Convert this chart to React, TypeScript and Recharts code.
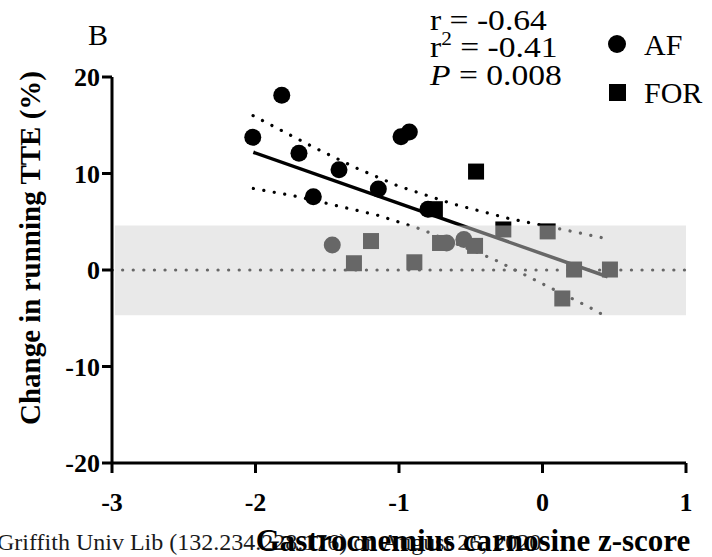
import { ScatterChart, Scatter, XAxis, YAxis, ReferenceArea, ReferenceLine, Legend } from "recharts";

// AF group (circles)
const afX = [-2.019, -1.817, -1.697, -1.597, -1.418, -1.144, -0.986, -0.928, -0.798, -1.465, -0.668, -0.548];
const afY = [13.75, 18.1, 12.1, 7.6, 10.4, 8.4, 13.8, 14.3, 6.3, 2.6, 2.8, 3.15];

// FOR group (squares)
const forX = [-0.75, -0.463, -0.273, 0.036, -1.195, -1.314, -0.893, -0.714, -0.47, 0.22, 0.47, 0.138];
const forY = [6.3, 10.2, 4.2, 4.0, 3.0, 0.7, 0.8, 2.8, 2.5, 0.05, 0.05, -2.95];

// regression line and 95% CI
const fitX = [-2.015, 0.454];
const fitY = [12.2, -0.7];
const upperX = [-2.017, -1.876, -1.592, -1.302, -1.005, -0.626, -0.238, 0.157, 0.463];
const upperY = [16.0, 14.9, 12.7, 10.6, 8.7, 6.85, 5.35, 4.15, 3.2];
const lowerX = [-2.015, -1.702, -1.458, -1.155, -0.923, -0.842, -0.331, -0.11, 0.029, 0.319, 0.459];
const lowerY = [8.45, 7.6, 6.75, 5.7, 4.6, 4.2, 1.05, -0.6, -1.65, -3.8, -4.95];

const xTicks = [-3, -2, -1, 0, 1];
const yTicks = [-20, -10, 0, 10, 20];
const bandLow = -4.7;
const bandHigh = 4.6;

const zip = (xs: number[], ys: number[]) => xs.map((x, i) => ({ x, y: ys[i] }));

const serif = "'Liberation Serif', 'Times New Roman', serif";
const tickStyle = { fontSize: 26, fontWeight: "bold", fontFamily: serif, fill: "#000" };
const axisStroke = { stroke: "#000", strokeWidth: 3 };
const dotted = { stroke: "#000", strokeWidth: 3.2, strokeDasharray: "0.1 10.5", strokeLinecap: "round" as const };

const CircleMark = (p: any) => <circle cx={p.cx} cy={p.cy} r={8.5} fill="#000" />;
const SquareMark = (p: any) => <rect x={p.cx - 8} y={p.cy - 8} width={16} height={16} fill="#000" />;
const NoMark = () => <g />;

const renderLegend = (props: any) => {
  const items = (props.payload || []).filter((e: any) => e.type !== "none");
  return (
    <svg width={112} height={90}>
      {items.map((e: any, i: number) => {
        const cy = 16 + i * 48;
        return (
          <g key={e.value}>
            {e.type === "square" ? (
              <rect x={9} y={cy - 8} width={17} height={17} fill="#000" />
            ) : (
              <circle cx={17} cy={cy} r={9} fill="#000" />
            )}
            <text x={44} y={cy + 11} fontSize={30} fontFamily={serif} fill="#000">
              {e.value}
            </text>
          </g>
        );
      })}
    </svg>
  );
};

export default function App() {
  return (
    <div style={{ position: "absolute", left: 0, top: 0, width: 712, height: 557, background: "#fff" }}>
      <ScatterChart width={712} height={557} margin={{ top: 77, right: 26, bottom: 0, left: 0 }}>
        <XAxis
          type="number"
          dataKey="x"
          domain={[-3, 1]}
          ticks={xTicks}
          height={94}
          tickSize={10}
          tickMargin={20}
          axisLine={axisStroke}
          tickLine={axisStroke}
          tick={tickStyle}
          allowDataOverflow
        />
        <YAxis
          type="number"
          dataKey="y"
          domain={[-20, 20]}
          ticks={yTicks}
          width={112}
          tickSize={10}
          tickMargin={2}
          axisLine={axisStroke}
          tickLine={axisStroke}
          tick={tickStyle}
          allowDataOverflow
        />
        <ReferenceLine y={0} {...dotted} />
        <Scatter data={zip(upperX, upperY)} line={dotted} shape={NoMark} legendType="none" fill="#000" isAnimationActive={false} />
        <Scatter data={zip(lowerX, lowerY)} line={dotted} shape={NoMark} legendType="none" fill="#000" isAnimationActive={false} />
        <Scatter data={zip(fitX, fitY)} line={{ stroke: "#000", strokeWidth: 3.5 }} shape={NoMark} legendType="none" fill="#000" isAnimationActive={false} />
        <Scatter name="AF" data={zip(afX, afY)} shape={CircleMark} legendType="circle" fill="#000" isAnimationActive={false} />
        <Scatter name="FOR" data={zip(forX, forY)} shape={SquareMark} legendType="square" fill="#000" isAnimationActive={false} />
        <ReferenceArea
          x1={-2.98}
          x2={1}
          y1={bandLow}
          y2={bandHigh}
          fill="#d2d2d2"
          fillOpacity={0.49}
          stroke="none"
          zIndex={650}
        />
        <Legend
          layout="vertical"
          align="center"
          verticalAlign="middle"
          content={renderLegend}
          wrapperStyle={{ left: 600, top: 28, width: 112, height: 90 }}
        />
      </ScatterChart>
      <svg width={712} height={557} style={{ position: "absolute", left: 0, top: 0, pointerEvents: "none" }}>
        <text x={88} y={45} fontSize={30} fontFamily={serif} fill="#000">B</text>
        <g transform="translate(430,0) scale(1.12,1)" fontSize={30} fontFamily={serif} fill="#000">
          <text x={0} y={30}>r = -0.64</text>
          <text x={0} y={57}>
            r<tspan dy={-12} fontSize={19}>2</tspan><tspan dy={12}> = -0.41</tspan>
          </text>
          <text x={0} y={85}>
            <tspan fontStyle="italic">P</tspan> = 0.008
          </text>
        </g>
        <text
          x={40}
          y={248}
          fontSize={29}
          fontWeight="bold"
          fontFamily={serif}
          textAnchor="middle"
          transform="rotate(-90, 40, 248)"
          fill="#000"
        >
          Change in running TTE (%)
        </text>
        <text x={-3} y={550} fontSize={24} fontFamily={serif} fill="#1a1a1a">
          Griffith Univ Lib (132.234.228.176) on August 26, 2020
        </text>
        <text x={473} y={551} fontSize={31} fontWeight="bold" fontFamily={serif} textAnchor="middle" fill="#000">
          Gastrocnemius carnosine z-score
        </text>
      </svg>
    </div>
  );
}
